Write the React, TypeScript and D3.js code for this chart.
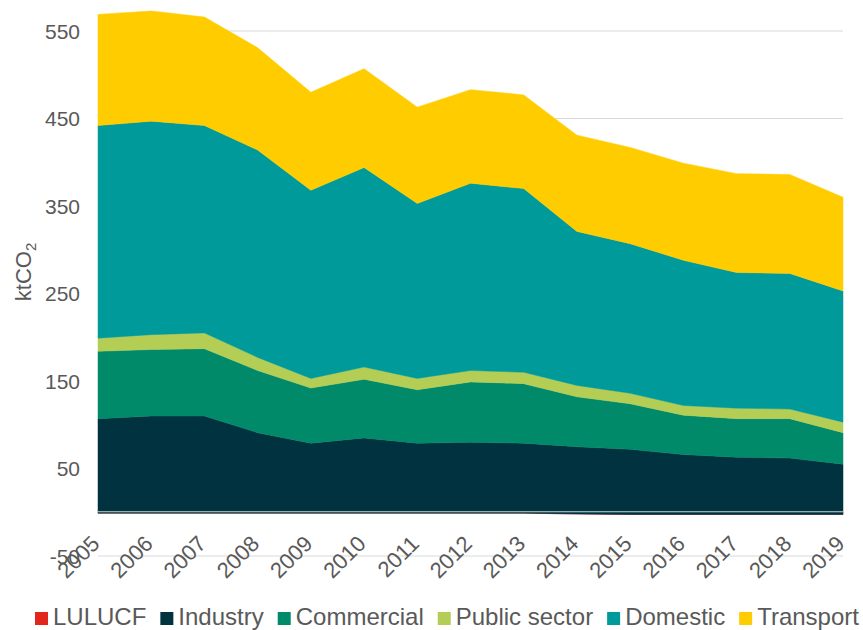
import React from "react";
import * as d3 from "d3";

const years = [2005, 2006, 2007, 2008, 2009, 2010, 2011, 2012, 2013, 2014, 2015, 2016, 2017, 2018, 2019];
const lulucf = [-1, -1, -1, -1, -1, -1, -1, -1, -1, -2, -2.5, -2.5, -2.5, -2.5, -2.5];
const industry = [108, 111, 111, 92, 80, 86, 80, 81, 80, 77, 74.5, 68.5, 65.5, 64.5, 57.5];
const commercial = [77, 76, 77, 71, 63, 67, 61, 69, 68, 57, 52, 45, 44, 45, 36];
const publicSector = [15, 17, 18, 15, 11, 14, 13, 13, 13, 13, 12, 11, 12, 11, 12];
const domestic = [243, 244, 237, 237, 215, 228, 200, 214, 210, 176, 171, 166, 155, 155, 150];
const transport = [127, 126, 124, 117, 112, 113, 110, 107, 107, 110, 110, 111, 113, 113, 107];

const seriesNames = ["LULUCF", "Industry", "Commercial", "Public sector", "Domestic", "Transport"];
const seriesValues = [lulucf, industry, commercial, publicSector, domestic, transport];
const colors = ["#e2261c", "#00333f", "#008a6a", "#b4cd55", "#009a9b", "#ffcc00"];
const yTicks = [-50, 50, 150, 250, 350, 450, 550];

const W = 863;
const H = 630;
const FONT = "'Liberation Sans', Arial, sans-serif";
const TXT = "#595959";

function measure(text: string, size: number) {
  if (typeof document === "undefined") return text.length * size * 0.55;
  const c = document.createElement("canvas");
  const ctx = c.getContext("2d");
  if (!ctx) return text.length * size * 0.55;
  ctx.font = `${size}px 'Liberation Sans', Arial, sans-serif`;
  return ctx.measureText(text).width;
}

export default function App() {
  const x = d3.scaleLinear().domain([2005, 2019]).range([98, 843]);
  const y = d3.scaleLinear().domain([-50, 550]).range([556, 31]);

  const table = years.map((yr, i) => {
    const row: Record<string, number> = { year: yr };
    seriesNames.forEach((n, j) => (row[n] = seriesValues[j][i]));
    return row;
  });
  const stacked = d3.stack<Record<string, number>>().keys(seriesNames).offset(d3.stackOffsetNone)(table);
  const area = d3
    .area<d3.SeriesPoint<Record<string, number>>>()
    .x((d) => x(d.data.year))
    .y0((d) => y(d[0]))
    .y1((d) => y(d[1]));

  const legendSize = 24;
  let lx = 35;
  const legendItems = seriesNames.map((n, i) => {
    const item = { name: n, color: colors[i], x: lx };
    lx += 18 + measure(n, legendSize) + 14;
    return item;
  });

  return (
    <svg width={W} height={H} style={{ position: "absolute", left: 0, top: 0, background: "#fff" }} fontFamily={FONT}>
      {yTicks.map((t) => (
        <line key={"g" + t} x1={x(2005)} x2={x(2019)} y1={y(t)} y2={y(t)} stroke="#d9d9d9" strokeWidth={1.2} />
      ))}
      {stacked.map((s, i) => (
        <path key={s.key} d={area(s) || ""} fill={colors[i]} stroke={colors[i]} strokeWidth={0.5} />
      ))}
      <line x1={x(2005)} x2={x(2019)} y1={y(0) - 0.5} y2={y(0) - 0.5} stroke="#c9d6d8" strokeWidth={1} />
      {yTicks.map((t) => (
        <text key={"y" + t} x={80} y={y(t)} dy="0.36em" textAnchor="end" fontSize={21} fill={TXT}>
          {t}
        </text>
      ))}
      {years.map((yr) => (
        <text
          key={"x" + yr}
          transform={`translate(${x(yr) + 3},${545}) rotate(-45)`}
          textAnchor="end"
          fontSize={22}
          fill={TXT}
        >
          {yr}
        </text>
      ))}
      <text transform={`translate(31,272) rotate(-90)`} textAnchor="middle" fontSize={22} fill={TXT}>
        ktCO<tspan fontSize={15} dy={5}>2</tspan>
      </text>
      {legendItems.map((it) => (
        <g key={it.name} transform={`translate(${it.x},0)`}>
          <rect x={0} y={612} width={13} height={13} fill={it.color} />
          <text x={18} y={625} fontSize={legendSize} fill={TXT}>
            {it.name}
          </text>
        </g>
      ))}
    </svg>
  );
}
